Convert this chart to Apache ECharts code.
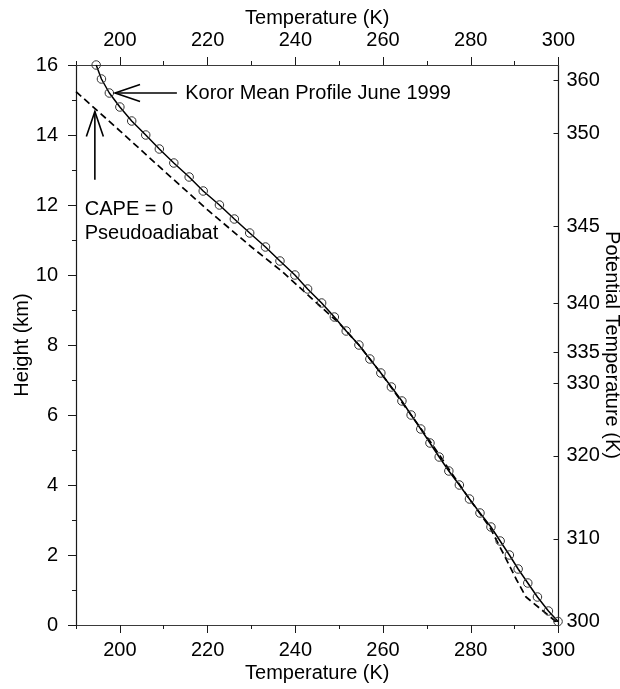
<!DOCTYPE html>
<html>
<head>
<meta charset="utf-8">
<script src="https://cdn.jsdelivr.net/npm/echarts@6/dist/echarts.min.js"></script>
<style>
  html, body { margin: 0; padding: 0; background: #fff; }
  #chart { width: 620px; height: 689px; }
</style>
</head>
<body>
<div id="chart"></div>
<script>
// Temperature axis labels / long ticks (K)
const tempMajorTicks = [200, 220, 240, 260, 280, 300];
// Height axis range (km)
const heightMin = 0, heightMax = 16;

// Koror mean sounding, June 1999: height (km) and temperature (K)
const kororHeight = [16.0, 15.6, 15.2, 14.8, 14.4, 14.0, 13.6, 13.2, 12.8, 12.4,
                     12.0, 11.6, 11.2, 10.8, 10.4, 10.0, 9.6, 9.2, 8.8, 8.4,
                     8.0, 7.6, 7.2, 6.8, 6.4, 6.0, 5.6, 5.2, 4.8, 4.4,
                     4.0, 3.6, 3.2, 2.8, 2.4, 2.0, 1.6, 1.2, 0.8, 0.4, 0.1];
const kororTemp = [194.6, 195.8, 197.6, 200.0, 202.7, 205.9, 209.0, 212.3, 215.8, 219.0,
                   222.7, 226.1, 229.6, 233.2, 236.5, 239.9, 242.8, 246.0, 248.9, 251.6,
                   254.5, 257.0, 259.5, 261.9, 264.3, 266.4, 268.6, 270.7, 272.8, 275.0,
                   277.4, 279.7, 282.1, 284.6, 286.7, 288.8, 290.8, 293.0, 295.2, 297.7, 299.9];

// CAPE = 0 pseudoadiabat: temperature (K) and height (km)
const pseudoTemp = [190.0, 200.0, 210.0, 220.0, 230.0, 237.0, 244.0, 250.0, 254.5, 259.5,
                    266.4, 271.0, 275.3, 279.7, 282.0, 284.3, 287.6, 290.4, 292.6, 299.4];
const pseudoHeight = [15.24, 14.12, 12.98, 11.86, 10.80, 10.10, 9.30, 8.62, 8.0, 7.2,
                      6.0, 5.2, 4.4, 3.6, 3.2, 2.8, 2.0, 1.3, 0.8, 0.1];

// Potential temperature (K) of the mean profile and the height (km) where it is reached
const thetaLevels = [300, 310, 320, 330, 335, 340, 345, 350, 360];
const thetaHeights = [0.11, 2.46, 4.83, 6.91, 7.8, 9.2, 11.4, 14.05, 15.57];

const FONT = 'Liberation Sans, Arial, Helvetica, sans-serif';
const AX = '#1a1a1a';
const AXH = '#3a3a3a';

const chart = echarts.init(document.getElementById('chart'), null, { renderer: 'canvas' });

const tickFont = { fontFamily: FONT, fontSize: 20, color: '#000' };
const nameFont = { fontFamily: FONT, fontSize: 20, color: '#000' };

function tempAxis(position, withLabels, gap) {
  return {
    type: 'value', position: position, min: 190, max: 300, interval: 10,
    axisLine: { show: true, lineStyle: { color: AXH, width: 1.2 } },
    axisTick: { show: true, inside: false, length: 4, lineStyle: { color: AX, width: 1 } },
    axisLabel: { show: withLabels, customValues: tempMajorTicks, margin: 15, ...tickFont },
    splitLine: { show: false },
    name: 'Temperature (K)', nameLocation: 'middle', nameGap: gap, nameMoveOverlap: false,
    nameTextStyle: nameFont
  };
}
function tempMajorTickAxis(position) {
  return {
    type: 'value', position: position, min: 190, max: 300,
    axisLine: { show: false },
    axisTick: { show: true, inside: false, length: 8, customValues: tempMajorTicks,
                lineStyle: { color: AX, width: 1 } },
    axisLabel: { show: false },
    splitLine: { show: false }
  };
}

const option = {
  backgroundColor: '#fff',
  animation: false,
  grid: { left: 76, right: 61.5, top: 65, bottom: 64, containLabel: false, outerBoundsMode: 'none' },
  xAxis: [
    tempAxis('bottom', true, 38),
    tempMajorTickAxis('bottom'),
    tempAxis('top', true, 37),
    tempMajorTickAxis('top')
  ],
  yAxis: [
    {
      type: 'value', position: 'left', min: heightMin, max: heightMax, interval: 2,
      axisLine: { show: true, lineStyle: { color: AX, width: 1.2 } },
      axisTick: { show: true, inside: false, length: 8, lineStyle: { color: AX, width: 1 } },
      minorTick: { show: true, splitNumber: 2, length: 4, lineStyle: { color: AX, width: 1 } },
      axisLabel: { margin: 18, ...tickFont },
      splitLine: { show: false },
      name: 'Height (km)', nameLocation: 'middle', nameGap: 44, nameMoveOverlap: false,
      nameTextStyle: nameFont
    },
    {
      type: 'value', position: 'right', min: heightMin, max: heightMax,
      axisLine: { show: true, lineStyle: { color: AX, width: 1.2 } },
      axisTick: { show: true, inside: true, length: 5, customValues: thetaHeights,
                  lineStyle: { color: AX, width: 1 } },
      axisLabel: {
        margin: 8, customValues: thetaHeights, ...tickFont,
        formatter: function (v) {
          const i = thetaHeights.findIndex(function (h) { return Math.abs(h - v) < 1e-6; });
          return i >= 0 ? String(thetaLevels[i]) : '';
        }
      },
      splitLine: { show: false },
      name: 'Potential Temperature (K)', nameLocation: 'middle', nameGap: 43,
      nameMoveOverlap: false, nameRotate: -90, nameTextStyle: nameFont
    }
  ],
  series: [
    {
      name: 'CAPE = 0 Pseudoadiabat', type: 'line', xAxisIndex: 0, yAxisIndex: 0,
      data: pseudoTemp.map(function (t, i) { return [t, pseudoHeight[i]]; }),
      showSymbol: false, smooth: false,
      lineStyle: { color: '#000', width: 1.7, type: [7, 4] },
      z: 3
    },
    {
      name: 'Koror Mean Profile June 1999', type: 'line', xAxisIndex: 0, yAxisIndex: 0,
      data: kororTemp.map(function (t, i) { return [t, kororHeight[i]]; }),
      symbol: 'circle', symbolSize: 8.5, showAllSymbol: true,
      itemStyle: { color: 'rgba(0,0,0,0)', borderColor: '#333', borderWidth: 1 },
      lineStyle: { color: '#000', width: 1.5 },
      z: 4
    }
  ]
};
chart.setOption(option);

// Annotations anchored in data space (temperature K, height km)
function px(t, h) { return chart.convertToPixel({ xAxisIndex: 0, yAxisIndex: 0 }, [t, h]); }
function arrowShapes(tail, tip) {
  const dx = tip[0] - tail[0], dy = tip[1] - tail[1];
  const len = Math.hypot(dx, dy), ux = dx / len, uy = dy / len;
  const back = 25, spread = 8.5;
  const b1 = [tip[0] - ux * back - uy * spread, tip[1] - uy * back + ux * spread];
  const b2 = [tip[0] - ux * back + uy * spread, tip[1] - uy * back - ux * spread];
  const st = { stroke: '#000', lineWidth: 1.6, fill: null };
  return [
    { type: 'polyline', shape: { points: [tail, tip] }, style: st, z: 10 },
    { type: 'polyline', shape: { points: [b1, tip, b2] }, style: st, z: 10 }
  ];
}
const kTip = px(198.9, 15.2), kTail = px(213.0, 15.2), kText = px(214.9, 15.2);
const cTip = px(194.3, 14.67), cTail = px(194.3, 12.72);
const cText1 = px(192.0, 11.86), cText2 = px(192.0, 11.2);
const txt = function (p, s) {
  return { type: 'text', x: p[0], y: p[1], z: 10,
           style: { text: s, font: '20px ' + FONT, fill: '#000', verticalAlign: 'middle' } };
};
chart.setOption({
  graphic: [].concat(
    arrowShapes(kTail, kTip),
    arrowShapes(cTail, cTip),
    [txt(kText, 'Koror Mean Profile June 1999'), txt(cText1, 'CAPE = 0'), txt(cText2, 'Pseudoadiabat')]
  )
});
</script>
</body>
</html>
